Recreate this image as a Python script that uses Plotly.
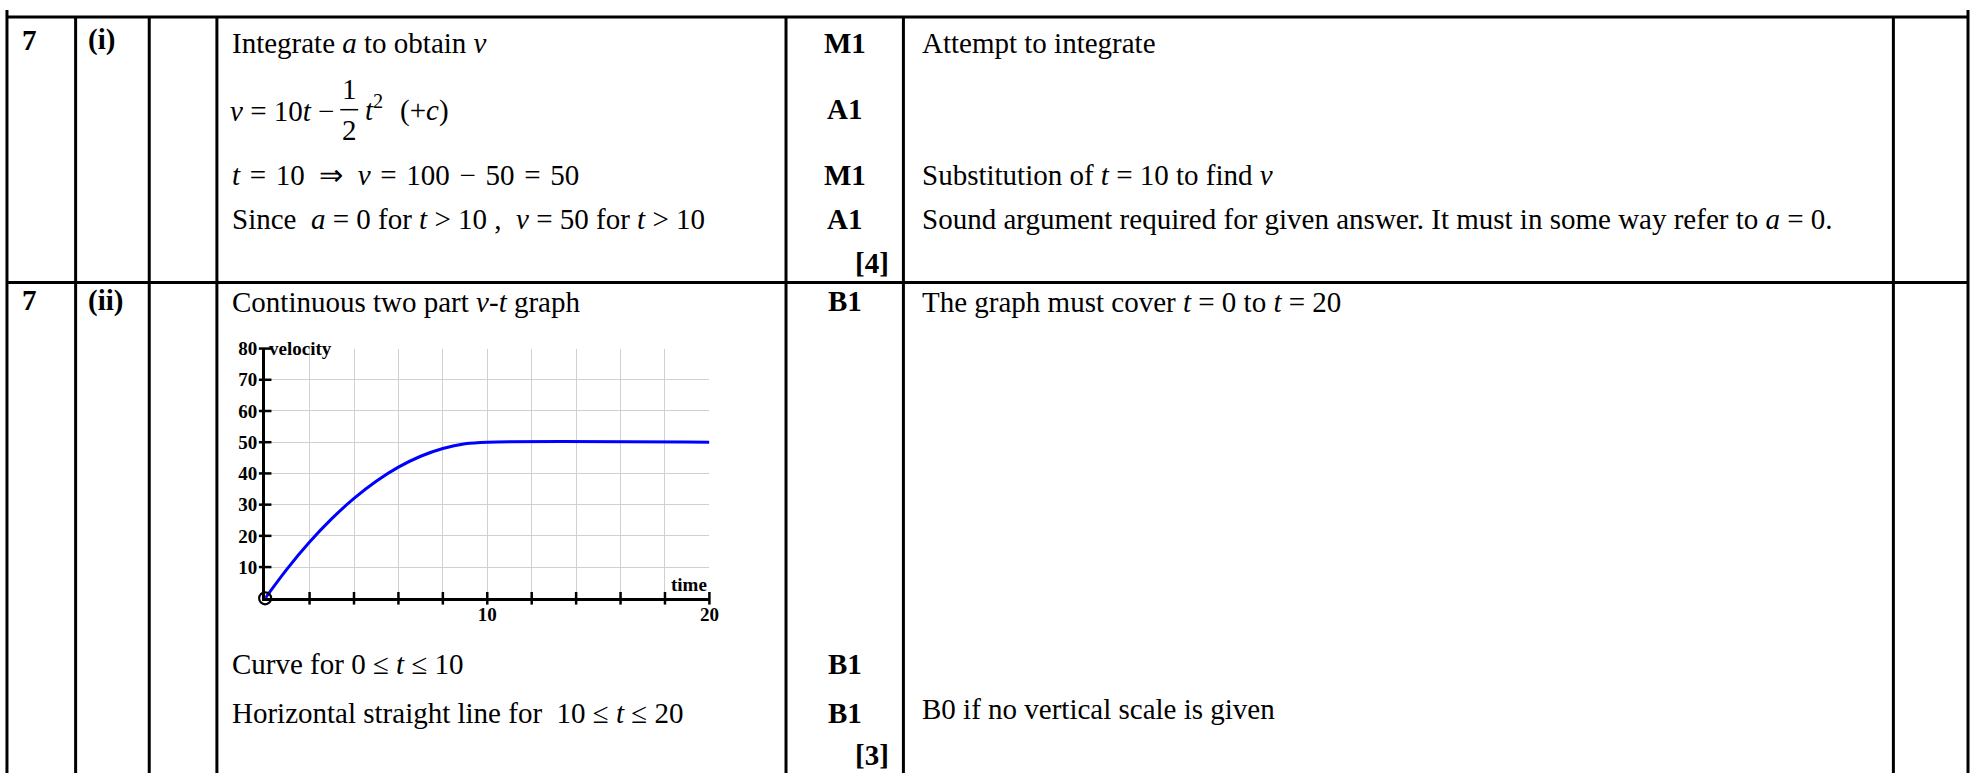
import plotly.graph_objects as go

# v-t graph values
time_vals = [0, 1, 2, 3, 4, 5, 6, 7, 8, 9, 10, 20]
velocity_vals = [0, 9.5, 18, 25.5, 32, 37.5, 42, 45.5, 48, 49.5, 50, 50]
x_tick_vals = [2, 4, 6, 8, 10, 12, 14, 16, 18, 20]
x_tick_text = ['', '', '', '', '10', '', '', '', '', '20']
y_tick_vals = [10, 20, 30, 40, 50, 60, 70, 80]
y_tick_text = ['10', '20', '30', '40', '50', '60', '70', '80']

# mark scheme text
questions = ['7', '7']
parts = ['(i)', '(ii)']
answers_i = [
    'Integrate <i>a</i> to obtain <i>v</i>',
    '<i>t</i>\u2004=\u200410\u2002⇒\u2002<i>v</i>\u2004=\u2004100\u2004−\u200450\u2004=\u200450',
    'Since\u00a0 <i>a</i> = 0 for <i>t</i> > 10 ,\u00a0 <i>v</i> = 50 for <i>t</i> > 10',
]
answers_ii = [
    'Continuous two part <i>v</i>-<i>t</i> graph',
    'Curve for 0 ≤ <i>t</i> ≤ 10',
    'Horizontal straight line for\u00a0 10 ≤ <i>t</i> ≤ 20',
]
marks_i = ['M1', 'A1', 'M1', 'A1', '[4]']
marks_ii = ['B1', 'B1', 'B1', '[3]']
guidance_i = ['Attempt to integrate', 'Substitution of <i>t</i> = 10 to find <i>v</i>',
              'Sound argument required for given answer. It must in some way refer to <i>a</i> = 0.']
guidance_ii = ['The graph must cover <i>t</i> = 0 to <i>t</i> = 20', 'B0 if no vertical scale is given']

W, H = 1980, 773
FONT = 'Liberation Serif'
SIZE = 29


def px(x):
    return x / W


def py(y):
    return 1 - y / H


fig = go.Figure()

# the graph
fig.add_trace(go.Scatter(x=time_vals, y=velocity_vals, mode='lines',
                         line=dict(color='#0000ff', width=3, shape='spline'),
                         cliponaxis=False))
fig.add_trace(go.Scatter(x=[0] * len(y_tick_vals), y=y_tick_vals, mode='markers',
                         marker=dict(symbol='line-ew', size=9, line=dict(width=2.5, color='black')),
                         cliponaxis=False))
fig.add_trace(go.Scatter(x=x_tick_vals, y=[0] * len(x_tick_vals), mode='markers',
                         marker=dict(symbol='line-ns', size=9, line=dict(width=2.5, color='black')),
                         cliponaxis=False))
fig.add_trace(go.Scatter(x=[0], y=[0], mode='markers',
                         marker=dict(symbol='circle-open', size=12, color='black', line=dict(width=2.2)),
                         cliponaxis=False))

tick_font = dict(family=FONT, size=19, color='black', weight='bold')
fig.update_xaxes(domain=[px(266.5), px(713)], range=[0, 20], tickvals=x_tick_vals, ticktext=x_tick_text,
                 showgrid=True, gridcolor='#d0d0d0', gridwidth=1, zeroline=False,
                 showline=True, linecolor='black', linewidth=3, ticks='', tickfont=tick_font,
                 ticklabelstandoff=-3)
fig.update_yaxes(domain=[py(596), py(343)], range=[0, 80], tickvals=y_tick_vals, ticktext=y_tick_text,
                 showgrid=True, gridcolor='#d0d0d0', gridwidth=1, zeroline=False,
                 showline=True, linecolor='black', linewidth=3, ticks='', tickfont=tick_font,
                 ticklabelstandoff=1)
fig.add_annotation(text='velocity', x=0, y=80, xref='x', yref='y', xanchor='left', yanchor='middle',
                   xshift=2, showarrow=False, font=tick_font)
fig.add_annotation(text='time', x=20, y=0, xref='x', yref='y', xanchor='right', yanchor='bottom',
                   yshift=1, showarrow=False, font=tick_font)

# table grid
col_x = [7, 76, 150, 218, 790, 908, 1903, 1978]
row_y = [7, 276]
for x in col_x:
    top = 0 if x in (col_x[0], col_x[-1]) else row_y[0]
    fig.add_shape(type='line', xref='paper', yref='paper', x0=px(x), x1=px(x), y0=py(top), y1=py(H),
                  line=dict(color='black', width=3))
for y in row_y:
    fig.add_shape(type='line', xref='paper', yref='paper', x0=px(col_x[0]), x1=px(col_x[-1]), y0=py(y), y1=py(y),
                  line=dict(color='black', width=3))


def txt(s, x, y, anchor='left', bold=False, size=SIZE):
    fig.add_annotation(text=s, x=px(x), y=py(y), xref='paper', yref='paper', xanchor=anchor,
                       yanchor='middle', showarrow=False,
                       font=dict(family=FONT, size=size, color='black', weight='bold' if bold else 'normal'))


# question / part columns
for q, p, y in zip(questions, parts, [30, 294]):
    txt(q, 20, y, bold=True)
    txt(p, 86, y, bold=True)

# answers, part (i)
txt(answers_i[0], 231, 33)
txt('<i>v</i> = 10<i>t</i> −', 338, 102, anchor='right')
txt('1', 351, 80, anchor='center')
txt('2', 351, 122, anchor='center')
fig.add_shape(type='line', xref='paper', yref='paper', x0=px(342), x1=px(360), y0=py(101), y1=py(101),
              line=dict(color='black', width=1.5))
txt('<i>t</i><sup>2</sup>', 365, 99)
txt('(+<i>c</i>)', 400, 102)
txt(answers_i[1], 231, 167)
txt(answers_i[2], 231, 212)

# answers, part (ii)
for s, y in zip(answers_ii, [296, 663, 712]):
    txt(s, 231, y)

# marks
for m, y in zip(marks_i, [33, 100, 167, 212, 256]):
    if m.startswith('['):
        txt(m, 896, y, anchor='right', bold=True)
    else:
        txt(m, 849, y, anchor='center', bold=True)
for m, y in zip(marks_ii, [295, 663, 712, 755]):
    if m.startswith('['):
        txt(m, 896, y, anchor='right', bold=True)
    else:
        txt(m, 849, y, anchor='center', bold=True)

# guidance
for s, y in zip(guidance_i, [33, 167, 212]):
    txt(s, 925, y)
for s, y in zip(guidance_ii, [296, 708]):
    txt(s, 925, y)

fig.update_layout(width=W, height=H, margin=dict(l=0, r=0, t=0, b=0), showlegend=False,
                  paper_bgcolor='white', plot_bgcolor='white', hovermode=False)
fig.write_html("out.html", config={'displayModeBar': False},
               post_script="document.body.style.margin='0';")
